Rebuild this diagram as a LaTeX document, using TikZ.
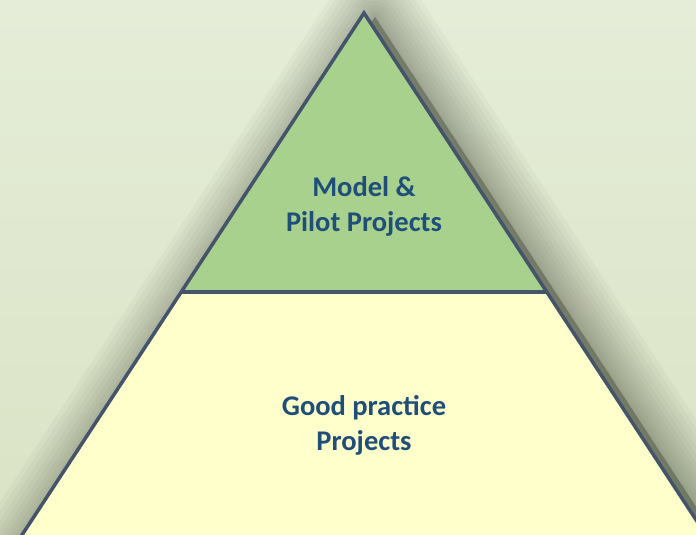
\documentclass[tikz,border=0pt]{standalone}
\usepackage{fontspec}
\setmainfont{Carlito}
\definecolor{bgtop}{HTML}{E5EDD8}
\definecolor{bgbot}{HTML}{DAE3C5}
\definecolor{topfill}{HTML}{A9D18E}
\definecolor{botfill}{HTML}{FFFFCC}
\definecolor{edge}{HTML}{44546A}
\definecolor{txt}{HTML}{1F4E79}
\definecolor{shadowc}{HTML}{3A3F30}
\tikzset{
  tier/.style={draw=edge, line width=3.5pt, line join=miter},
  label/.style={font=\bfseries\fontsize{28.5}{35}\selectfont, text=txt, align=center, inner sep=0pt},
}
\begin{document}
\begin{tikzpicture}[x=1pt,y=-1pt]
\useasboundingbox (0,0) rectangle (696,535);
\shade[top color=bgtop, bottom color=bgbot] (0,0) rectangle (696,535);
\begin{scope}
\clip (0,0) rectangle (696,535);
\coordinate (apex) at (364,13);
\coordinate (bl) at (5.6,560);
\coordinate (br) at (722.4,560);
\coordinate (ml) at (181.3,292);
\coordinate (mr) at (546.7,292);
% soft shadow, offset to the right
\foreach \w in {96,86,76,66,57,48,40,32,24,17,10,4}{
  \filldraw[shadowc, opacity=0.04, line width=\w pt, line join=round]
    ([shift={(11,4)}]apex) -- ([shift={(11,4)}]br) -- ([shift={(11,4)}]bl) -- cycle;
}
\fill[botfill] (ml) -- (mr) -- (br) -- (bl) -- cycle;
\fill[topfill] (apex) -- (mr) -- (ml) -- cycle;
\draw[tier] (ml) -- (mr);
\draw[tier] (bl) -- (apex) -- (br);
\end{scope}
\node[label] (top) at (364,206) {Model \&\\Pilot Projects};
\node[label] (bottom) at (364,425) {Good practice\\Projects};
\end{tikzpicture}
\end{document}
